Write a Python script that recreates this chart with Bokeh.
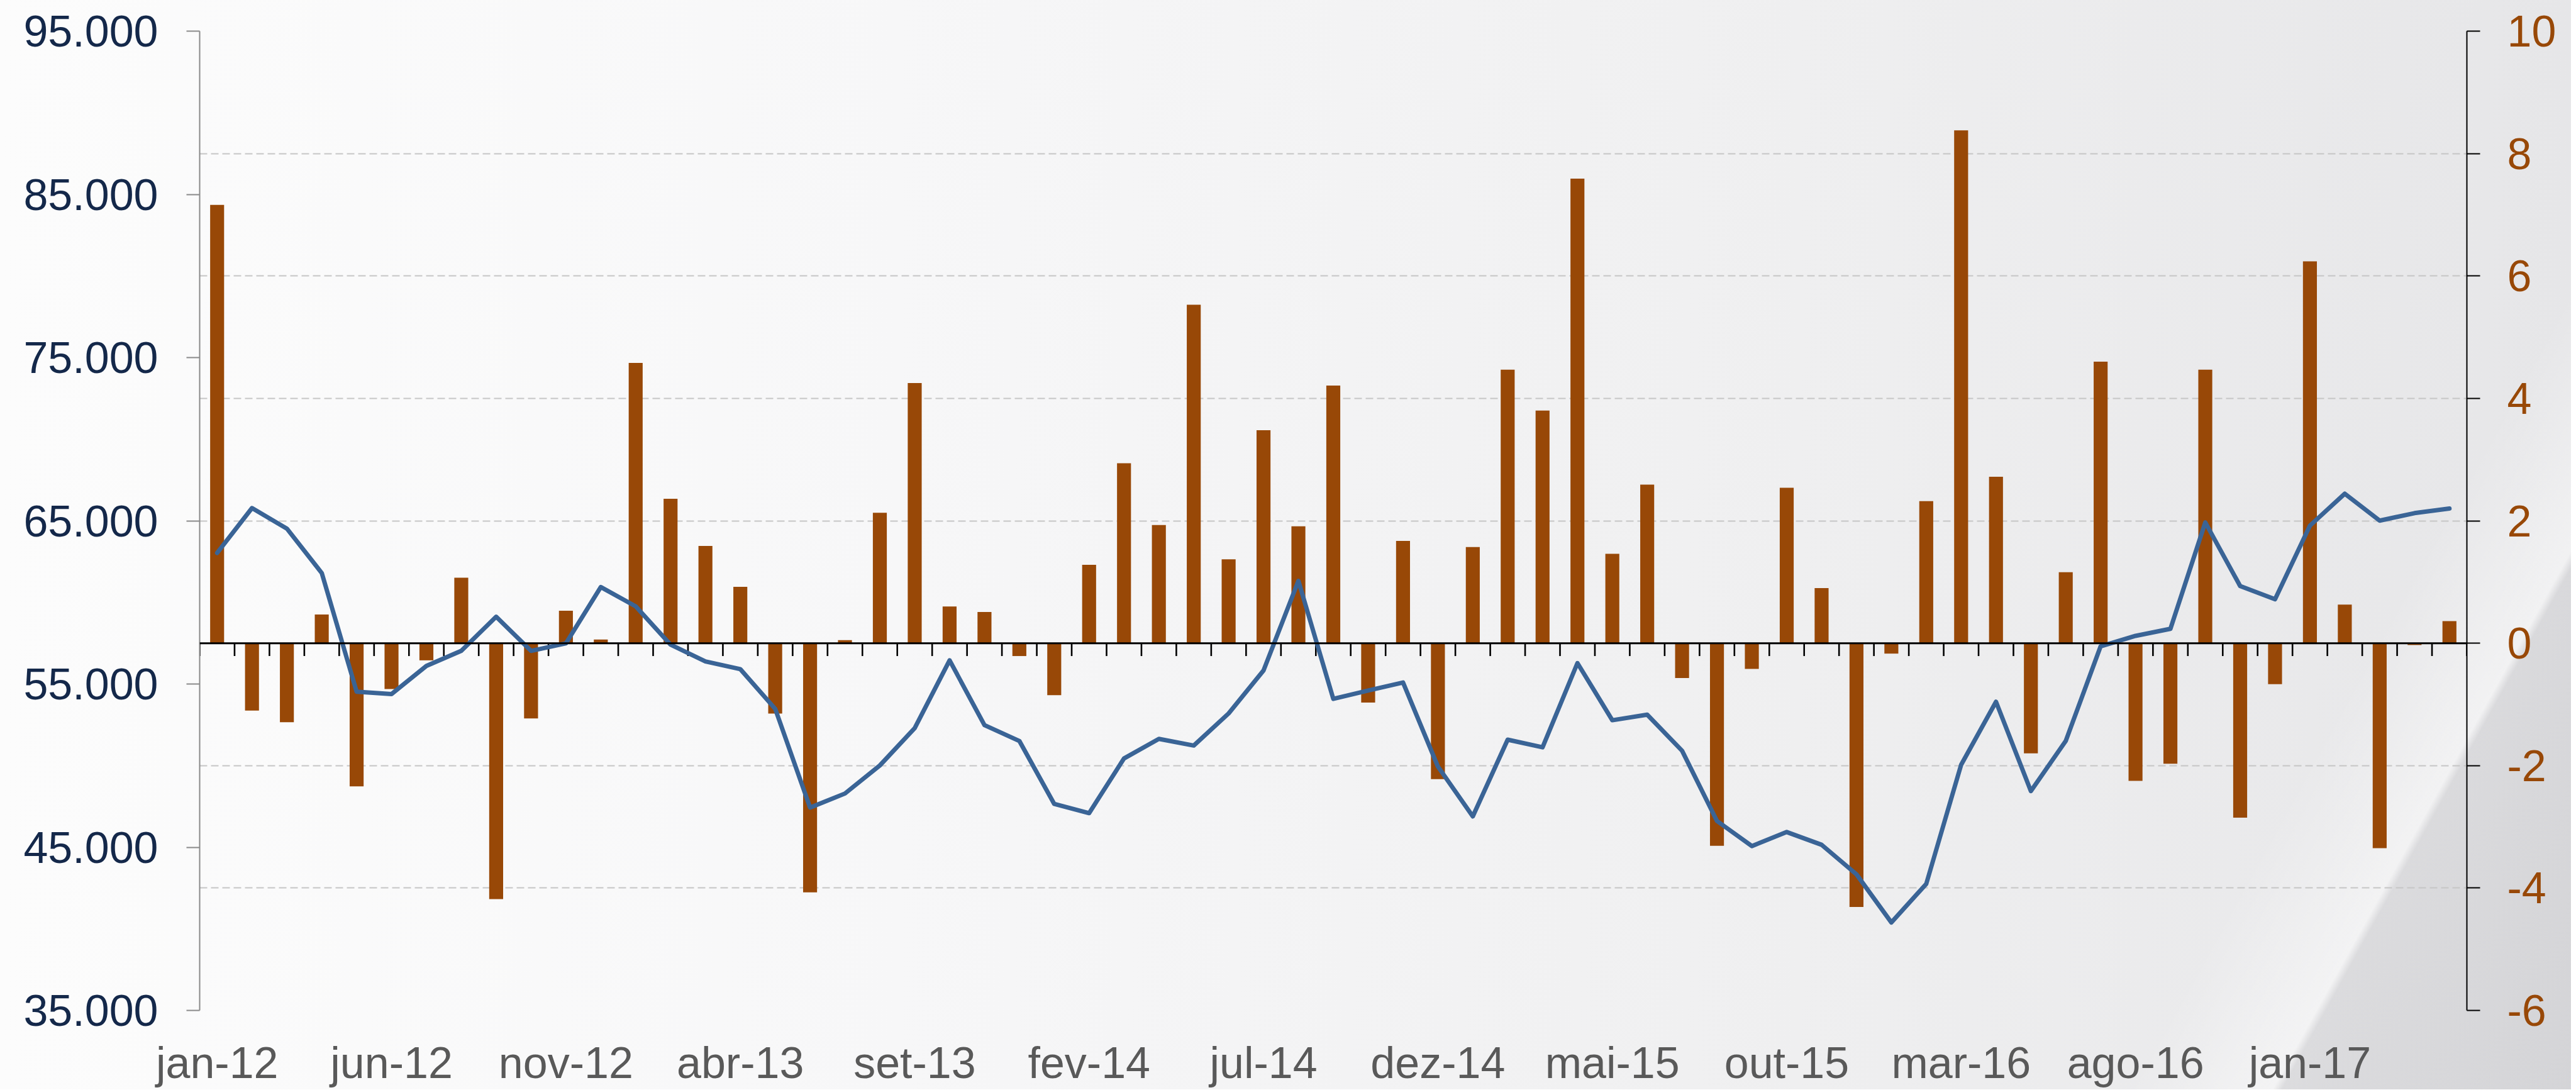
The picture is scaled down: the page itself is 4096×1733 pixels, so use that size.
from bokeh.plotting import figure
from bokeh.models import (LinearAxis, Range1d, FixedTicker, Grid, Span,
                          ColumnDataSource)
from bokeh.embed import file_html
from bokeh.resources import INLINE

# ---------------- data ----------------
months = [
    "jan-12", "fev-12", "mar-12", "abr-12", "mai-12", "jun-12", "jul-12", "ago-12", "set-12", "out-12", "nov-12", "dez-12",
    "jan-13", "fev-13", "mar-13", "abr-13", "mai-13", "jun-13", "jul-13", "ago-13", "set-13", "out-13", "nov-13", "dez-13",
    "jan-14", "fev-14", "mar-14", "abr-14", "mai-14", "jun-14", "jul-14", "ago-14", "set-14", "out-14", "nov-14", "dez-14",
    "jan-15", "fev-15", "mar-15", "abr-15", "mai-15", "jun-15", "jul-15", "ago-15", "set-15", "out-15", "nov-15", "dez-15",
    "jan-16", "fev-16", "mar-16", "abr-16", "mai-16", "jun-16", "jul-16", "ago-16", "set-16", "out-16", "nov-16", "dez-16",
    "jan-17", "fev-17", "mar-17", "abr-17", "mai-17",
]

# monthly change (right axis, bars)
variation = [
    7.16, -1.10, -1.29, 0.47, -2.34, -0.75, -0.28, 1.07, -4.18, -1.23, 0.53, 0.06,
    4.58, 2.36, 1.59, 0.92, -1.15, -4.07, 0.05, 2.13, 4.25, 0.60, 0.51, -0.21,
    -0.85, 1.28, 2.94, 1.93, 5.53, 1.37, 3.48, 1.91, 4.21, -0.97, 1.67, -2.22,
    1.57, 4.47, 3.80, 7.59, 1.46, 2.59, -0.57, -3.31, -0.42, 2.54, 0.90, -4.31,
    -0.17, 2.32, 8.38, 2.72, -1.80, 1.16, 4.60, -2.25, -1.97, 4.47, -2.85, -0.67,
    6.24, 0.63, -3.35, -0.03, 0.36,
]

# level (left axis, line)
level = [
    63030, 65780, 64520, 61800, 54530, 54380, 56110, 57030, 59120, 57030, 57490, 60940,
    59760, 57410, 56380, 55910, 53480, 47430, 48290, 50010, 52300, 56450, 52480, 51510,
    47650, 47090, 50440, 51640, 51230, 53200, 55830, 61320, 54090, 54600, 55090, 49940,
    46890, 51590, 51120, 56280, 52780, 53120, 50910, 46610, 45070, 45930, 45150, 43340,
    40390, 42750, 50050, 53910, 48440, 51510, 57310, 57950, 58380, 64900, 61000, 60190,
    64700, 66660, 65010, 65470, 65750,
]

left_ticks = [35000, 45000, 55000, 65000, 75000, 85000, 95000]
right_ticks = [-6, -4, -2, 0, 2, 4, 6, 8, 10]
label_every = 5

# ---------------- styling ----------------
BAR_COLOR = "#984807"
LINE_COLOR = "#3a6496"
LEFT_LABEL_COLOR = "#14284a"
RIGHT_LABEL_COLOR = "#984807"
X_LABEL_COLOR = "#595959"
FONT = "Liberation Sans"
FS = "70px"

n = len(months)
idx = list(range(n))
src = ColumnDataSource(dict(x=idx, var=variation, lvl=level))

p = figure(
    width=4088, height=1732,
    x_range=Range1d(-0.5, n - 0.5),
    y_range=Range1d(right_ticks[0], right_ticks[-1]),
    x_axis_type=None, y_axis_type=None,
    output_backend="svg", toolbar_location=None,
    min_border_left=317, min_border_right=166,
    min_border_top=49, min_border_bottom=126,
)
p.extra_y_ranges = {"left": Range1d(left_ticks[0], left_ticks[-1])}
p.border_fill_color = None
p.background_fill_color = None
p.outline_line_color = None
p.styles = {
    "background-image": (
        "linear-gradient(119deg, rgba(0,0,0,0) 86%, rgba(255,255,255,0.45) 90.6%, "
        "rgba(110,110,118,0.11) 90.9%, rgba(110,110,118,0.15) 100%), "
        "linear-gradient(to right, #fcfcfc 0%, #f7f7f8 35%, #efeff0 70%, #e6e6e8 100%)"
    )
}

# horizontal dashed grid (right-axis ticks, except the zero line)
grid = Grid(dimension=1,
            ticker=FixedTicker(ticks=[t for t in right_ticks if t != 0]),
            grid_line_color="#c6c6c6", grid_line_dash="12 6",
            grid_line_width=2)
p.add_layout(grid)

# bars
p.vbar(x="x", top="var", bottom=0, width=0.4, source=src,
       fill_color=BAR_COLOR, line_color=None)

# zero line (category axis crossing)
p.add_layout(Span(location=0, dimension="width", line_color="black",
                  line_width=3))

# month boundary tick marks below the zero line
bounds = [i - 0.5 for i in range(n + 1)]
tick_len = 0.21
p.segment(x0=bounds, x1=bounds, y0=[0] * len(bounds),
          y1=[-tick_len] * len(bounds), line_color="black", line_width=2.6)

# line
p.line(x="x", y="lvl", source=src, y_range_name="left",
       line_color=LINE_COLOR, line_width=7, line_join="round",
       line_cap="round")

# left axis
left_axis = LinearAxis(
    y_range_name="left", ticker=FixedTicker(ticks=left_ticks),
    major_label_overrides={t: f"{t:,}".replace(",", ".") for t in left_ticks},
    axis_line_color="#8a8a8a", axis_line_width=2,
    major_tick_line_color="#8a8a8a", major_tick_line_width=2,
    major_tick_in=0, major_tick_out=21,
    minor_tick_line_color=None,
    major_label_standoff=45,
    major_label_text_font=FONT, major_label_text_font_size=FS,
    major_label_text_color=LEFT_LABEL_COLOR,
)
p.add_layout(left_axis, "left")

# right axis
right_axis = LinearAxis(
    ticker=FixedTicker(ticks=right_ticks),
    major_label_overrides={t: str(t) for t in right_ticks},
    axis_line_color="black", axis_line_width=2,
    major_tick_line_color="black", major_tick_line_width=2,
    major_tick_in=0, major_tick_out=21,
    minor_tick_line_color=None,
    major_label_standoff=43,
    major_label_text_font=FONT, major_label_text_font_size=FS,
    major_label_text_color=RIGHT_LABEL_COLOR,
)
p.add_layout(right_axis, "right")

# bottom axis: labels only
xticks = idx[::label_every]
bottom_axis = LinearAxis(
    ticker=FixedTicker(ticks=xticks),
    major_label_overrides={i: months[i] for i in xticks},
    axis_line_color=None, major_tick_line_color=None,
    minor_tick_line_color=None,
    major_tick_in=0, major_tick_out=0,
    major_label_standoff=44,
    major_label_text_font=FONT, major_label_text_font_size=FS,
    major_label_text_color=X_LABEL_COLOR,
)
p.add_layout(bottom_axis, "below")

open("out.html", "w").write(file_html(p, INLINE))
